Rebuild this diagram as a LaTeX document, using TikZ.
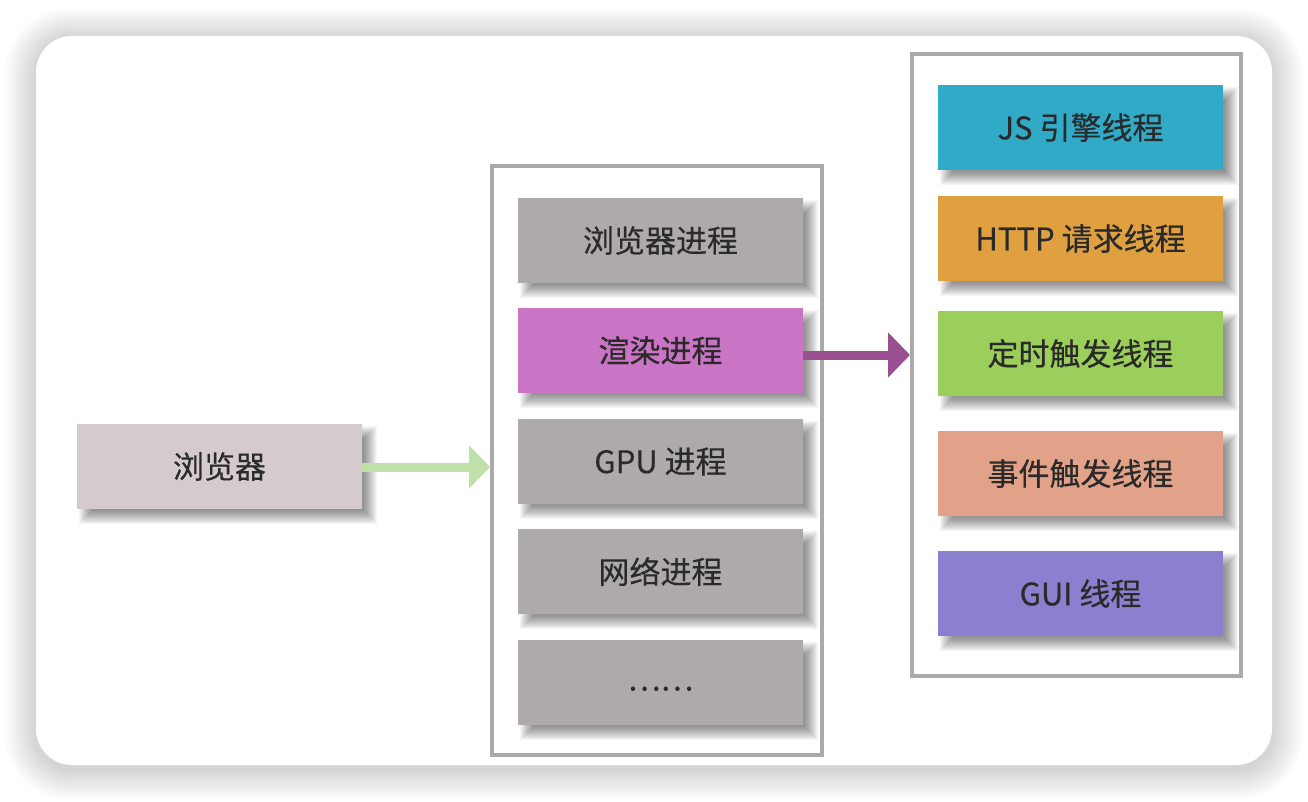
\documentclass[tikz,border=0pt]{standalone}
\usepackage{fontspec}
\setmainfont{Noto Sans CJK SC}[FakeBold=0.4]
\usetikzlibrary{arrows.meta}
\definecolor{framegray}{HTML}{ABA9AA}
\definecolor{procgray}{HTML}{AEAAAB}
\definecolor{procpink}{HTML}{C974C4}
\definecolor{browsercol}{HTML}{D5CBCE}
\definecolor{jscol}{HTML}{30AAC6}
\definecolor{httpcol}{HTML}{E0A040}
\definecolor{timercol}{HTML}{9BCE5A}
\definecolor{eventcol}{HTML}{E2A189}
\definecolor{guicol}{HTML}{8B80D0}
\definecolor{txtcol}{HTML}{2A2A2A}
\definecolor{greenarrow}{HTML}{BFE0A8}
\definecolor{purplearrow}{HTML}{9A4F90}
\tikzset{
  x=1pt, y=-1pt,
  box/.style={draw=none, minimum width=285pt, minimum height=85pt, inner sep=0pt,
    font=\fontsize{31pt}{35pt}\selectfont, text=txtcol},
  frame/.style={draw=framegray, line width=4pt},
  shadowlayer/.style={fill=black, opacity=0.035},
  cardshadow/.style={fill=black, opacity=0.012},
}
% shadow + box: name, left x, top y, colour, text
\newcommand{\mybox}[5]{%
  \foreach \e in {8,7,...,-5}{%
    \fill[shadowlayer] ({#2+10-\e},{#3+10-\e}) rectangle ({#2+285+7+\e},{#3+85+7+\e});
  }
  \node[box, fill=#4] (#1) at ({#2+142.5},{#3+42.5}) {#5};
}
\begin{document}
\begin{tikzpicture}
\useasboundingbox (0,0) rectangle (1308,802);
\fill[white] (0,0) rectangle (1308,802);
% card shadow
\foreach \i in {1,...,14}{
  \fill[cardshadow, rounded corners={36+2*\i}] ({36-2.2*\i},{36-2.2*\i+3}) rectangle ({1272+2.2*\i},{765+2.2*\i+4});
}
\fill[white, rounded corners=36pt] (36,36) rectangle (1272,765);
% frames
\draw[frame] (492,166) rectangle (822,755);
\draw[frame] (912,54) rectangle (1241,676);
\coordinate (midwest) at (490,467);
\coordinate (rightwest) at (910,355);
% browser
\mybox{browser}{77}{424}{browsercol}{浏览器}
% processes
\mybox{p1}{518}{198}{procgray}{浏览器进程}
\mybox{p2}{518}{308}{procpink}{渲染进程}
\mybox{p3}{518}{419}{procgray}{GPU 进程}
\mybox{p4}{518}{529}{procgray}{网络进程}
\mybox{p5}{518}{640}{procgray}{\raisebox{-8pt}[0pt][0pt]{……}}
% threads
\mybox{t1}{938}{85}{jscol}{JS 引擎线程}
\mybox{t2}{938}{196}{httpcol}{HTTP 请求线程}
\mybox{t3}{938}{311}{timercol}{定时触发线程}
\mybox{t4}{938}{431}{eventcol}{事件触发线程}
\mybox{t5}{938}{551}{guicol}{GUI 线程}
% arrows
\draw[greenarrow, line width=9pt, -{Triangle[length=21pt,width=42pt]}] (browser.east |- midwest) -- (midwest);
\draw[purplearrow, line width=9pt, -{Triangle[length=22pt,width=44pt]}] (p2.east |- rightwest) -- (rightwest);
\end{tikzpicture}
\end{document}
